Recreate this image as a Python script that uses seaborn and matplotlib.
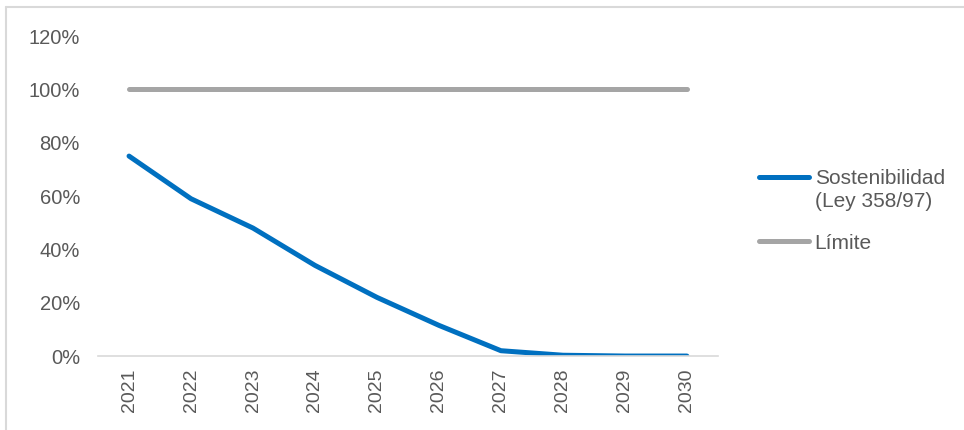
import matplotlib
matplotlib.use("Agg")
import matplotlib.pyplot as plt
from matplotlib.lines import Line2D
from matplotlib.ticker import PercentFormatter
import seaborn as sns
import pandas as pd

years = ["2021", "2022", "2023", "2024", "2025", "2026", "2027", "2028", "2029", "2030"]
sostenibilidad = [75, 59, 48, 34, 22, 11.5, 2, 0.3, 0, 0]
limite = [100, 100, 100, 100, 100, 100, 100, 100, 100, 100]
series_names = ["Sostenibilidad\n(Ley 358/97)", "Límite"]
colors = ["#0070C0", "#A5A5A5"]

sns.set_style("white")
plt.rcParams["font.family"] = ["Liberation Sans", "DejaVu Sans"]

df = pd.DataFrame({
    "year": years * 2,
    "value": sostenibilidad + limite,
    "serie": [series_names[0]] * len(years) + [series_names[1]] * len(years),
})

fig = plt.figure(figsize=(9.64, 4.3), dpi=100)
ax = fig.add_axes([0.1017, 0.172, 0.643, 0.744])

sns.lineplot(data=df, x="year", y="value", hue="serie", sort=False,
             palette=colors, linewidth=3.6, ax=ax, legend=False)

ax.set_xlim(-0.5, len(years) - 0.5)
ax.set_ylim(0, 120)
ax.set_yticks(range(0, 121, 20))
ax.yaxis.set_major_formatter(PercentFormatter(decimals=0))
ax.set_xlabel("")
ax.set_ylabel("")
ax.tick_params(axis="x", labelrotation=90, labelsize=14, colors="#595959", length=0, pad=9)
ax.tick_params(axis="y", labelsize=14.5, colors="#595959", length=0, pad=13)
for s in ["top", "right", "left"]:
    ax.spines[s].set_visible(False)
ax.spines["bottom"].set_color("#D9D9D9")
ax.spines["bottom"].set_linewidth(1.2)

# legend drawn by hand so the key line sits on the first text line, as in Excel
key_y = [0.588, 0.4395]
base_y = [0.571, 0.422]
line_step = 23 / 430
for name, col, ky, by in zip(series_names, colors, key_y, base_y):
    fig.add_artist(Line2D([0.787, 0.839], [ky, ky], color=col, lw=3.6,
                          solid_capstyle="round", transform=fig.transFigure))
    for i, part in enumerate(name.split("\n")):
        fig.text(0.845, by - i * line_step, part, ha="left", va="baseline",
                 fontsize=15, color="#595959")

# chart border (top and left edges visible in the crop)
fig.add_artist(Line2D([0.006, 0.006], [0.0, 0.984], color="#D9D9D9", lw=1.5, transform=fig.transFigure))
fig.add_artist(Line2D([0.006, 1.0], [0.984, 0.984], color="#D9D9D9", lw=1.5, transform=fig.transFigure))

fig.savefig("out.png", dpi=100)
